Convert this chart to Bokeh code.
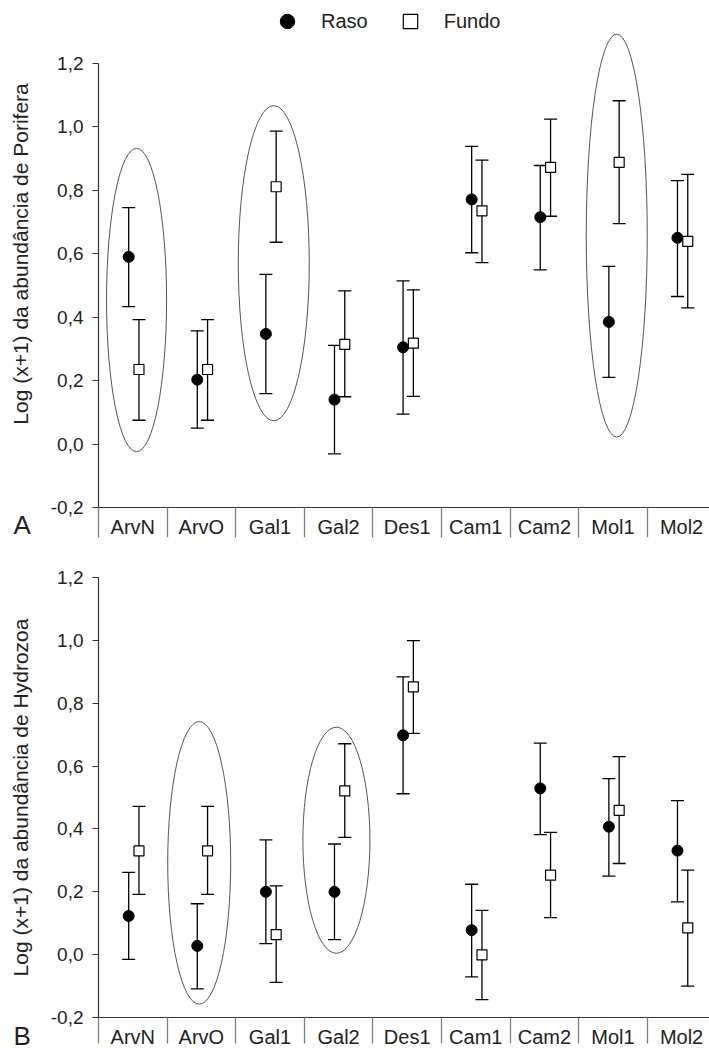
import numpy as np
from bokeh.plotting import figure
from bokeh.models import (ColumnDataSource, Whisker, TeeHead, FixedTicker,
                          CustomJSTickFormatter, Range1d, Legend, LegendItem, Title)
from bokeh.layouts import column
from bokeh.embed import file_html
from bokeh.resources import INLINE

# ---------------- data ----------------
categories = ["ArvN", "ArvO", "Gal1", "Gal2", "Des1", "Cam1", "Cam2", "Mol1", "Mol2"]

# Panel A - Porifera
por_raso_mean = [0.590, 0.203, 0.347, 0.140, 0.305, 0.771, 0.715, 0.385, 0.650]
por_raso_low = [0.433, 0.050, 0.159, -0.031, 0.094, 0.603, 0.549, 0.210, 0.465]
por_raso_up = [0.745, 0.357, 0.535, 0.311, 0.514, 0.938, 0.878, 0.560, 0.830]
por_fundo_mean = [0.235, 0.235, 0.811, 0.314, 0.318, 0.735, 0.872, 0.888, 0.639]
por_fundo_low = [0.075, 0.075, 0.636, 0.149, 0.150, 0.572, 0.718, 0.695, 0.429]
por_fundo_up = [0.392, 0.392, 0.986, 0.483, 0.486, 0.895, 1.024, 1.082, 0.850]

# Panel B - Hydrozoa
hyd_raso_mean = [0.123, 0.028, 0.200, 0.200, 0.698, 0.078, 0.529, 0.407, 0.331]
hyd_raso_low = [-0.015, -0.109, 0.035, 0.048, 0.512, -0.071, 0.382, 0.250, 0.168]
hyd_raso_up = [0.262, 0.162, 0.365, 0.352, 0.884, 0.224, 0.673, 0.560, 0.490]
hyd_fundo_mean = [0.330, 0.330, 0.064, 0.521, 0.852, -0.001, 0.253, 0.459, 0.085]
hyd_fundo_low = [0.192, 0.192, -0.088, 0.373, 0.704, -0.143, 0.118, 0.290, -0.100]
hyd_fundo_up = [0.472, 0.472, 0.219, 0.671, 0.999, 0.141, 0.389, 0.630, 0.269]

# highlighted groups (ellipses)
por_ell_cats = ["ArvN", "Gal1", "Mol1"]
por_ell_y = [0.454, 0.570, 0.657]
por_ell_h = [0.956, 0.994, 1.270]
por_ell_w = [0.875, 1.035, 0.889]

hyd_ell_cats = ["ArvO", "Gal2"]
hyd_ell_y = [0.292, 0.364]
hyd_ell_h = [0.899, 0.720]
hyd_ell_w = [0.918, 0.977]

y_ticks = [-0.2, 0.0, 0.2, 0.4, 0.6, 0.8, 1.0, 1.2]

# ---------------- styling ----------------
FONT = "Liberation Sans"
RASO_OFF = -0.06
FUNDO_OFF = 0.09
X_END = 8.907


def make_panel(height, top_px, bottom_px, y_end, ylabel, letter, letter_standoff,
               div_len, line_h, rm, rl, ru, fm, fl, fu, ecats, ey, eh, ew, ell_off,
               legend=False):
    p = figure(width=709, height=height, output_backend="svg", toolbar_location=None,
               x_range=Range1d(0, X_END), y_range=Range1d(-0.2, y_end),
               min_border_left=98, min_border_right=0,
               min_border_top=top_px, min_border_bottom=bottom_px)
    p.outline_line_color = None
    p.xgrid.grid_line_color = None
    p.ygrid.grid_line_color = None
    p.background_fill_color = "white"

    idx = np.arange(len(categories))
    xr = idx + 0.5 + RASO_OFF
    xf = idx + 0.5 + FUNDO_OFF

    for xs, lo, up in ((xr, rl, ru), (xf, fl, fu)):
        src = ColumnDataSource(dict(x=xs, lower=lo, upper=up))
        w = Whisker(base="x", lower="lower", upper="upper", source=src, dimension="height",
                    line_color="black", line_width=1.3,
                    upper_head=TeeHead(size=13, line_color="black", line_width=1.3),
                    lower_head=TeeHead(size=13, line_color="black", line_width=1.3))
        p.add_layout(w)

    ex = [categories.index(c) + 0.5 + ell_off for c in ecats]
    p.ellipse(x=ex, y=ey, width=ew, height=eh, fill_color=None,
              line_color="#555555", line_width=1)

    r_c = p.scatter(xr, rm, marker="circle", size=11, fill_color="black", line_color="black")
    r_s = p.scatter(xf, fm, marker="square", size=10, fill_color="white",
                    line_color="black", line_width=1.2)

    # y axis
    ya = p.yaxis[0]
    ya.ticker = FixedTicker(ticks=y_ticks)
    ya.bounds = (-0.2, 1.2)
    ya.formatter = CustomJSTickFormatter(code="return tick.toFixed(1).replace('.', ',');")
    ya.major_tick_out = 6
    ya.major_tick_in = 0
    ya.minor_tick_out = 0
    ya.minor_tick_in = 0
    ya.axis_line_color = "#333333"
    ya.major_tick_line_color = "#333333"
    ya.axis_line_width = 1.2
    ya.major_label_text_font = FONT
    ya.major_label_text_font_size = "19px"
    ya.major_label_text_color = "#222222"
    ya.major_label_standoff = 9
    ya.axis_label = ylabel
    ya.axis_label_text_font = FONT
    ya.axis_label_text_font_size = "21px"
    ya.axis_label_text_font_style = "normal"
    ya.axis_label_text_color = "#222222"
    ya.axis_label_standoff = 16

    # x axis with category boxes
    xa = p.xaxis[0]
    xa.ticker = FixedTicker(ticks=list(idx + 0.5), minor_ticks=list(idx.astype(float)))
    xa.formatter = CustomJSTickFormatter(args=dict(names=categories),
                                         code="return names[Math.floor(tick)];")
    xa.major_tick_out = 0
    xa.major_tick_in = 0
    xa.minor_tick_out = div_len
    xa.minor_tick_in = 0
    xa.minor_tick_line_color = "#808080"
    xa.minor_tick_line_width = 1.3
    xa.axis_line_color = "#333333"
    xa.axis_line_width = 1.2
    xa.major_label_text_font = FONT
    xa.major_label_text_font_size = "20px"
    xa.major_label_text_color = "#222222"
    xa.major_label_text_line_height = line_h
    xa.major_label_standoff = 8 - div_len

    # panel letter
    t = Title(text=letter, align="left", vertical_align="top", offset=-85,
              standoff=letter_standoff, text_font=FONT, text_font_size="26px",
              text_font_style="normal", text_color="#222222")
    p.add_layout(t, "below")

    if legend:
        lg = Legend(items=[LegendItem(label="Raso", renderers=[r_c]),
                           LegendItem(label="Fundo", renderers=[r_s])],
                    orientation="horizontal", location=(171, 468),
                    glyph_width=36, glyph_height=36, label_standoff=16, spacing=24,
                    padding=0, margin=0, border_line_color=None,
                    background_fill_alpha=0, label_text_font=FONT,
                    label_text_font_size="20px", label_text_color="#222222")
        p.add_layout(lg)
    return p


pA = make_panel(545, 0, 38, 1.398, "Log (x+1) da abundância de Porifera", "A", -61, 30, 1.2,
                por_raso_mean, por_raso_low, por_raso_up,
                por_fundo_mean, por_fundo_low, por_fundo_up,
                por_ell_cats, por_ell_y, por_ell_h, por_ell_w, 0.055, legend=True)
pB = make_panel(505, 32, 29, 1.2, "Log (x+1) da abundância de Hydrozoa", "B", -60, 26, 1.0,
                hyd_raso_mean, hyd_raso_low, hyd_raso_up,
                hyd_fundo_mean, hyd_fundo_low, hyd_fundo_up,
                hyd_ell_cats, hyd_ell_y, hyd_ell_h, hyd_ell_w, -0.032)

layout = column(pA, pB, spacing=0)
open("out.html", "w").write(file_html(layout, INLINE))
